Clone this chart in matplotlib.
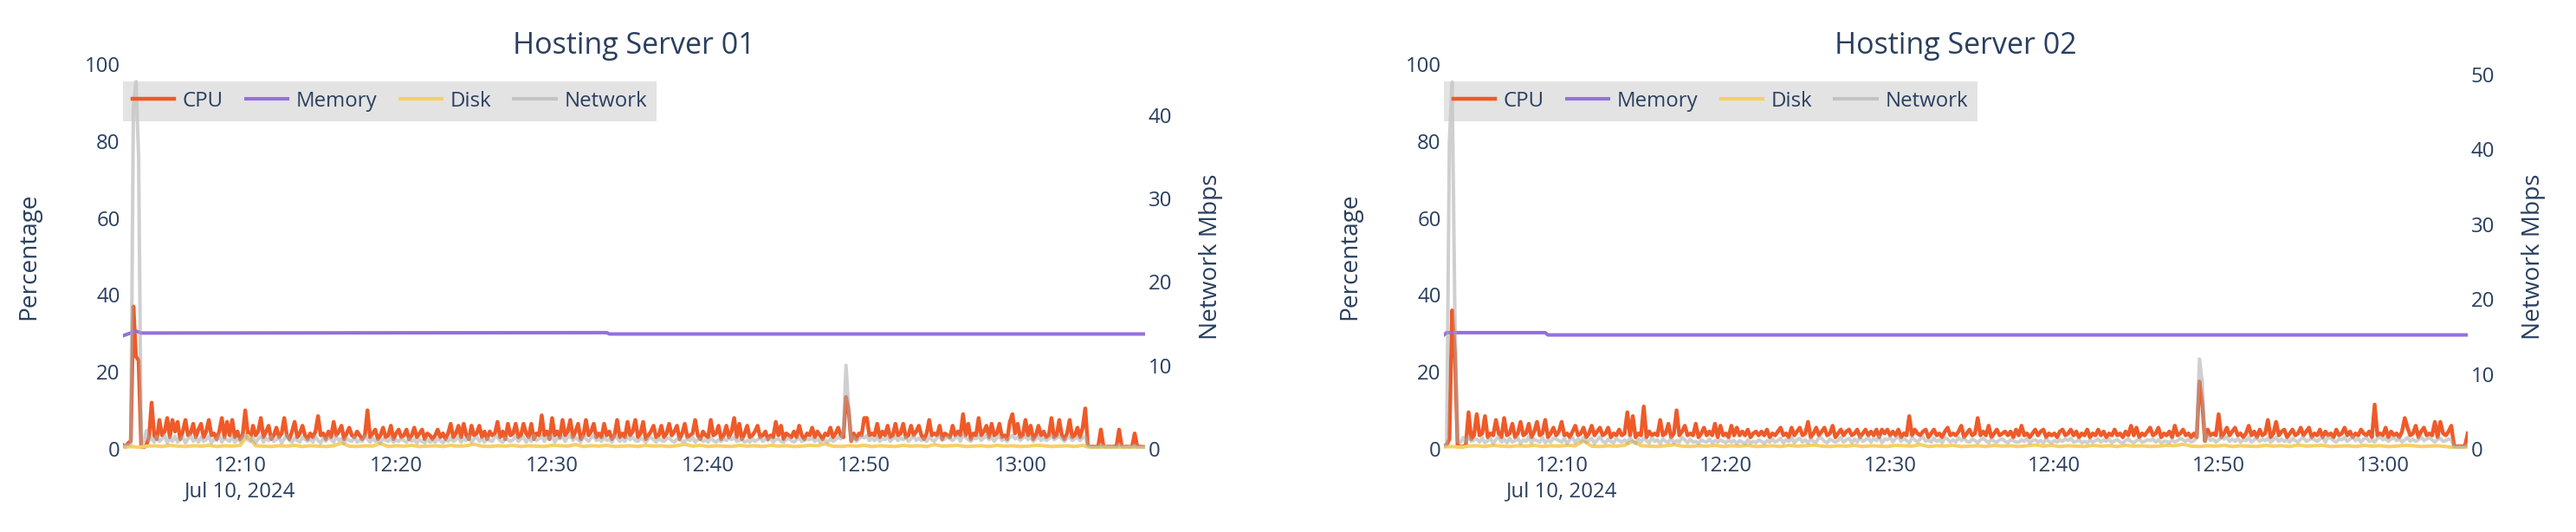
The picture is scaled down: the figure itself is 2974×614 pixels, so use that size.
import pandas as pd
import matplotlib
matplotlib.use('Agg')
import matplotlib.pyplot as plt
from matplotlib.ticker import MultipleLocator

# --- Hosting Server 01 : samples every 10 s from 12:02:30 (one row = one minute)
s1_start = '2024-07-10 12:02:30'
s1_cpu = [
    1.0, 0.5, 1.5, 2.0, 37.0, 24.0,
    23.0, 0.5, 0.4, 1.0, 3.0, 12.0,
    3.5, 2.5, 7.5, 3.5, 4.5, 8.0,
    3.0, 7.5, 4.5, 7.0, 2.5, 4.5,
    7.5, 3.5, 4.0, 6.5, 3.0, 5.0,
    6.5, 3.0, 4.5, 7.5, 3.5, 4.0,
    2.5, 4.5, 8.0, 3.0, 7.0, 3.5,
    7.5, 3.0, 4.5, 2.5, 3.5, 10.0,
    4.0, 3.0, 6.0, 3.5, 4.5, 8.0,
    3.0, 4.5, 6.0, 2.5, 3.5, 5.5,
    3.0, 4.0, 8.0, 3.5, 2.5, 4.5,
    7.0, 3.0, 4.0, 6.0, 3.5, 2.5,
    4.0, 3.0, 4.5, 8.5, 3.5, 4.0,
    2.5, 4.5, 3.0, 7.0, 3.5, 4.5,
    6.0, 2.5, 4.0, 5.5, 3.5, 3.0,
    4.5, 3.5, 2.5, 3.5, 10.0, 3.0,
    4.0, 5.0, 2.5, 3.5, 5.5, 3.0,
    3.5, 6.0, 2.5, 4.0, 5.0, 3.0,
    3.5, 5.0, 2.5, 3.5, 5.5, 3.0,
    4.0, 5.0, 2.5, 4.0, 3.5, 2.5,
    3.5, 5.0, 3.0, 4.0, 2.5, 4.0,
    6.5, 3.0, 4.0, 6.0, 3.0, 6.5,
    3.5, 2.5, 6.0, 3.5, 4.0, 6.0,
    3.0, 4.5, 2.5, 4.5, 3.5, 4.0,
    7.0, 3.0, 4.5, 2.5, 6.5, 3.5,
    4.0, 6.5, 3.0, 3.5, 6.5, 4.0,
    3.0, 6.5, 2.5, 4.0, 3.5, 8.7,
    3.5, 4.5, 2.5, 8.0, 3.5, 4.5,
    3.0, 7.5, 3.5, 4.5, 7.5, 3.0,
    4.5, 6.5, 2.5, 3.5, 7.5, 3.5,
    4.5, 6.5, 3.0, 4.0, 3.0, 6.5,
    3.5, 4.5, 2.5, 3.5, 7.5, 3.0,
    4.0, 3.0, 7.0, 3.5, 4.5, 7.5,
    3.0, 4.0, 7.0, 2.5, 3.5, 4.5,
    6.0, 3.0, 3.5, 6.0, 3.0, 4.0,
    6.5, 3.5, 4.5, 6.0, 2.5, 4.0,
    6.5, 3.0, 3.5, 4.0, 7.5, 3.5,
    2.5, 4.5, 3.5, 3.0, 7.5, 3.5,
    4.0, 6.0, 2.5, 3.5, 6.0, 3.0,
    4.5, 8.0, 3.0, 6.5, 2.5, 4.0,
    6.0, 3.0, 3.5, 4.5, 6.0, 3.0,
    3.5, 4.5, 2.5, 3.5, 3.0, 7.0,
    3.5, 6.0, 2.5, 4.0, 3.5, 3.0,
    4.5, 3.0, 6.0, 3.5, 2.5, 4.0,
    3.5, 5.5, 3.0, 4.5, 3.5, 2.5,
    4.0, 3.5, 5.5, 3.0, 4.0, 5.5,
    3.5, 3.0, 13.5, 10.0, 2.0, 4.0,
    2.5, 4.0, 3.5, 8.0, 8.0, 3.5,
    4.0, 3.5, 6.5, 3.0, 4.5, 3.5,
    6.0, 3.0, 3.5, 6.5, 3.5, 4.0,
    6.5, 3.0, 3.5, 6.0, 3.5, 4.5,
    6.0, 3.5, 2.5, 4.0, 7.5, 3.5,
    4.0, 3.5, 6.0, 2.5, 4.0, 3.5,
    3.0, 6.0, 3.5, 4.5, 3.5, 9.0,
    3.5, 6.5, 2.5, 4.0, 3.5, 8.0,
    3.5, 4.5, 6.0, 3.0, 6.5, 3.5,
    4.0, 6.5, 3.0, 3.5, 2.5, 7.0,
    9.0, 4.0, 6.5, 3.0, 3.5, 7.5,
    3.5, 6.0, 2.5, 3.5, 6.0, 3.5,
    4.5, 3.0, 3.5, 8.0, 3.0, 3.5,
    7.5, 3.5, 2.5, 4.0, 7.5, 3.0,
    3.5, 5.5, 3.0, 5.5, 10.5, 0.8,
    0.5, 0.6, 0.5, 0.7, 5.0, 0.6,
    0.5, 0.6, 0.5, 0.6, 0.7, 5.0,
    0.6, 0.5, 0.6, 0.5, 0.6, 4.0,
    0.5, 0.6, 0.5, 0.5,
]
s1_net = [
    0.3, 0.4, 0.5, 0.6, 41.0, 44.0,
    35.0, 0.6, 0.9, 2.2, 1.0, 1.3,
    0.8, 1.5, 0.9, 1.2, 1.6, 0.7,
    1.3, 0.9, 1.5, 0.8, 1.1, 1.4,
    0.7, 1.2, 1.6, 0.9, 1.3, 0.8,
    1.4, 0.9, 1.1, 1.5, 0.7, 1.2,
    1.0, 1.6, 0.8, 1.3, 1.1, 0.9,
    1.5, 0.8, 1.2, 0.9, 1.4, 1.7,
    1.1, 0.9, 1.4, 0.7, 1.2, 1.5,
    0.8, 1.3, 1.0, 1.5, 0.9, 1.1,
    1.4, 0.7, 1.2, 1.6, 1.0, 0.8,
    1.3, 1.0, 0.8, 1.4, 1.1, 0.9,
    1.2, 0.8, 1.5, 1.0, 0.7, 1.3,
    0.9, 1.4, 1.1, 0.8, 1.5, 1.0,
    1.2, 0.7, 1.3, 1.0, 0.9, 1.4,
    0.8, 1.1, 0.9, 1.5, 1.2, 0.8,
    1.3, 0.9, 1.0, 0.7, 1.2, 1.0,
    0.9, 1.3, 0.8, 1.1, 0.9, 1.2,
    1.0, 0.8, 1.2, 0.9, 1.1, 0.7,
    1.1, 0.9, 0.7, 1.2, 0.8, 1.0,
    0.8, 1.2, 1.0, 0.7, 1.1, 0.9,
    1.3, 0.9, 1.1, 1.4, 0.8, 1.2,
    1.0, 1.5, 0.8, 1.2, 1.4, 0.9,
    1.2, 0.8, 1.3, 1.0, 0.9, 1.5,
    1.4, 1.0, 0.8, 1.3, 1.1, 0.9,
    1.1, 1.5, 0.9, 1.2, 1.4, 0.8,
    1.3, 0.9, 1.6, 1.0, 1.2, 1.5,
    0.9, 1.4, 1.1, 1.6, 0.8, 1.3,
    1.2, 1.5, 0.9, 1.4, 1.6, 1.0,
    1.4, 1.1, 0.8, 1.5, 1.2, 0.9,
    1.3, 1.6, 1.0, 1.2, 0.9, 1.4,
    1.0, 1.2, 0.8, 1.5, 1.3, 0.9,
    1.2, 0.9, 1.5, 1.1, 1.4, 1.0,
    0.9, 1.3, 1.1, 0.8, 1.2, 1.4,
    1.1, 0.8, 1.3, 1.0, 0.9, 1.2,
    1.3, 1.0, 0.8, 1.2, 1.1, 0.9,
    0.9, 1.2, 1.0, 1.4, 0.8, 1.1,
    1.2, 0.9, 1.1, 0.8, 1.3, 1.0,
    0.8, 1.1, 0.9, 1.2, 1.0, 1.3,
    1.1, 1.4, 0.9, 1.0, 1.2, 0.8,
    1.0, 0.8, 1.2, 0.9, 1.1, 1.3,
    0.9, 1.2, 1.0, 1.3, 0.8, 1.1,
    1.2, 0.9, 0.8, 1.1, 1.3, 1.0,
    0.8, 1.1, 1.3, 0.9, 1.0, 1.2,
    1.1, 1.3, 0.9, 1.2, 0.8, 1.0,
    1.0, 0.8, 1.2, 0.9, 1.1, 1.4,
    1.2, 2.0, 10.0, 5.0, 1.0, 1.4,
    0.9, 1.2, 1.5, 1.3, 1.6, 1.0,
    1.3, 1.0, 1.4, 0.9, 1.2, 1.1,
    1.5, 0.9, 1.2, 1.4, 1.0, 1.3,
    1.1, 1.4, 0.9, 1.2, 1.5, 1.0,
    1.3, 1.0, 1.2, 0.9, 1.4, 1.1,
    0.9, 1.3, 1.5, 1.0, 1.2, 1.4,
    1.2, 1.0, 1.3, 1.5, 0.9, 1.6,
    1.4, 1.1, 0.9, 1.3, 1.2, 1.5,
    1.0, 1.3, 1.6, 1.1, 1.4, 0.9,
    1.3, 1.5, 1.0, 1.2, 0.9, 1.4,
    1.6, 1.2, 1.4, 1.0, 1.3, 1.5,
    1.1, 1.4, 0.9, 1.2, 1.5, 1.0,
    1.3, 1.0, 1.2, 1.6, 1.1, 1.3,
    1.5, 1.2, 0.9, 1.3, 1.4, 1.0,
    1.2, 1.4, 1.0, 1.3, 1.5, 0.4,
    0.3, 0.2, 0.3, 0.2, 0.5, 0.3,
    0.2, 0.3, 0.2, 0.3, 0.2, 0.5,
    0.3, 0.2, 0.3, 0.2, 0.3, 0.4,
    0.2, 0.3, 0.2, 0.2,
]
# disk sampled every 30 s
s1_disk = [
    0.5, 0.6, 0.4, 0.7, 0.8, 0.6, 0.9, 0.7, 0.6, 0.8,
    0.7, 0.9, 0.6, 0.8, 0.7, 0.9, 3.4, 0.8, 0.7, 0.6,
    0.8, 0.7, 0.9, 0.6, 0.8, 0.7, 0.6, 0.8, 1.5, 0.7,
    0.6, 0.8, 0.7, 1.4, 0.6, 0.8, 0.7, 0.9, 0.6, 0.7,
    0.8, 0.6, 0.9, 0.7, 0.8, 1.2, 0.7, 0.6, 0.8, 0.7,
    0.9, 0.6, 0.8, 0.7, 0.6, 0.9, 0.8, 0.7, 1.1, 0.6,
    0.8, 0.7, 0.9, 0.6, 0.7, 0.8, 0.6, 0.9, 0.7, 0.8,
    0.6, 0.8, 1.2, 0.7, 0.9, 0.6, 0.8, 0.7, 0.6, 0.9,
    0.7, 0.8, 0.6, 0.9, 0.7, 0.8, 0.6, 0.7, 0.9, 0.8,
    1.3, 0.7, 0.6, 0.8, 0.7, 0.9, 0.6, 0.8, 0.7, 0.6,
    0.9, 0.7, 0.8, 0.6, 1.1, 0.7, 0.8, 0.9, 0.6, 0.7,
    0.8, 0.6, 0.9, 0.7, 0.8, 0.6, 0.7, 0.9, 0.8, 0.6,
    0.7, 0.8, 0.6, 0.9, 0.3, 0.3, 0.4, 0.3, 0.3, 0.4,
    0.3, 0.3,
]
s1_mem_times = ['12:02:30', '12:03:20', '12:03:40', '12:33:30', '12:33:40', '13:08:00']
s1_mem = [29.4, 30.6, 30.1, 30.2, 29.85, 29.85]
s1_net_top = 46.1

# --- Hosting Server 02 : samples every 10 s from 12:02:50
s2_start = '2024-07-10 12:02:50'
s2_cpu = [
    0.8, 1.0, 2.5, 36.0, 25.0, 0.8,
    0.5, 0.6, 1.0, 9.5, 2.5, 3.5,
    9.0, 3.5, 4.0, 8.5, 3.0, 4.0,
    3.5, 7.5, 4.0, 3.0, 8.0, 3.5,
    4.0, 6.5, 3.0, 4.0, 7.0, 3.5,
    4.0, 6.5, 3.0, 4.5, 7.0, 3.5,
    4.0, 7.5, 3.0, 4.0, 5.5, 3.5,
    4.5, 7.0, 3.5, 4.0, 3.0, 4.5,
    6.0, 3.5, 4.0, 5.5, 3.0, 4.0,
    6.0, 3.5, 4.5, 5.5, 3.5, 4.0,
    5.5, 3.0, 4.0, 3.5, 5.0, 3.5,
    4.0, 9.5, 3.5, 8.5, 3.0, 4.0,
    3.5, 11.0, 3.0, 4.5, 3.5, 4.0,
    3.5, 7.5, 3.5, 4.0, 6.5, 3.0,
    4.0, 10.0, 3.5, 4.5, 6.0, 3.5,
    4.0, 3.5, 6.5, 3.0, 4.0, 5.5,
    3.5, 4.5, 3.5, 6.5, 3.0, 6.0,
    3.5, 4.0, 3.0, 6.0, 3.5, 5.5,
    3.5, 4.5, 3.5, 5.0, 3.0, 4.0,
    4.5, 3.5, 4.5, 3.5, 5.0, 3.0,
    4.0, 3.5, 4.5, 5.5, 3.5, 4.0,
    3.0, 5.5, 3.5, 4.5, 5.5, 3.5,
    4.0, 7.0, 3.0, 4.0, 5.5, 3.5,
    4.5, 5.5, 3.5, 4.0, 6.0, 3.0,
    4.0, 5.0, 3.5, 4.5, 5.0, 3.5,
    4.0, 5.0, 3.0, 4.0, 5.0, 3.5,
    4.5, 3.5, 5.0, 3.0, 5.0, 4.0,
    5.0, 3.5, 4.5, 3.5, 5.0, 3.0,
    4.0, 3.5, 8.5, 3.5, 5.0, 4.0,
    3.5, 4.5, 5.0, 3.0, 4.0, 5.0,
    3.5, 4.0, 3.0, 4.5, 5.5, 3.5,
    4.0, 3.5, 4.5, 6.0, 3.0, 4.0,
    5.0, 3.5, 4.0, 8.0, 3.5, 4.5,
    3.5, 6.0, 3.0, 4.0, 5.0, 3.5,
    4.0, 4.5, 3.5, 4.5, 3.0, 5.0,
    3.5, 6.0, 3.5, 4.0, 3.0, 4.0,
    5.0, 3.5, 4.5, 5.0, 3.0, 4.0,
    3.5, 4.0, 3.0, 4.5, 5.0, 3.5,
    4.0, 5.0, 3.5, 4.5, 3.0, 4.0,
    3.5, 5.0, 3.0, 4.0, 3.5, 5.0,
    3.5, 4.5, 3.0, 4.0, 3.5, 5.0,
    3.5, 4.0, 3.0, 4.5, 3.5, 6.0,
    3.5, 5.5, 3.0, 4.0, 3.5, 4.5,
    5.5, 3.5, 4.0, 5.5, 3.0, 4.0,
    3.5, 4.5, 3.0, 6.0, 3.5, 4.0,
    5.0, 3.5, 4.0, 3.0, 4.0, 3.0,
    17.5, 12.0, 2.0, 5.0, 3.5, 4.0,
    3.5, 9.0, 3.0, 4.0, 5.5, 3.5,
    4.5, 5.5, 3.5, 4.0, 3.0, 4.0,
    6.0, 3.5, 4.5, 3.0, 5.0, 3.5,
    4.0, 7.5, 3.0, 4.0, 7.0, 3.5,
    4.5, 5.0, 3.0, 4.0, 5.0, 3.5,
    4.0, 5.5, 3.5, 4.5, 5.5, 3.0,
    4.0, 3.5, 5.0, 3.0, 4.5, 3.5,
    4.0, 3.0, 5.0, 3.5, 4.0, 5.5,
    3.5, 4.5, 3.0, 4.0, 3.5, 5.0,
    4.0, 3.5, 4.5, 3.0, 11.5, 3.5,
    4.0, 3.5, 5.5, 3.0, 4.5, 3.5,
    4.0, 3.0, 4.5, 8.0, 5.5, 3.5,
    4.0, 6.0, 3.0, 4.5, 5.5, 3.5,
    4.0, 3.5, 7.0, 3.0, 7.0, 4.0,
    3.5, 4.5, 6.0, 0.8, 0.6, 0.7,
    0.6, 0.8, 4.0,
]
s2_net = [
    0.4, 0.5, 41.0, 49.0, 18.0, 1.0,
    0.8, 1.5, 0.9, 1.6, 1.0, 1.2,
    1.3, 0.9, 1.5, 0.8, 1.1, 1.4,
    0.7, 1.2, 1.6, 0.9, 1.3, 0.8,
    1.4, 0.9, 1.1, 1.5, 0.7, 1.2,
    1.0, 1.6, 0.8, 1.3, 1.1, 0.9,
    1.5, 0.8, 1.2, 0.9, 1.4, 1.3,
    1.1, 0.9, 1.4, 0.7, 1.2, 1.5,
    0.8, 1.3, 1.0, 1.5, 0.9, 1.1,
    1.4, 0.7, 1.2, 1.6, 1.0, 0.8,
    1.3, 1.0, 0.8, 1.4, 1.1, 0.9,
    1.2, 0.8, 1.5, 1.0, 0.7, 1.3,
    0.9, 1.4, 1.1, 0.8, 1.5, 1.0,
    1.2, 0.7, 1.3, 1.0, 0.9, 1.4,
    0.8, 1.1, 0.9, 1.5, 1.2, 0.8,
    1.3, 0.9, 1.0, 0.7, 1.2, 1.0,
    0.9, 1.3, 0.8, 1.1, 0.9, 1.2,
    1.0, 0.8, 1.2, 0.9, 1.1, 0.7,
    1.1, 0.9, 0.7, 1.2, 0.8, 1.0,
    0.8, 1.2, 1.0, 0.7, 1.1, 0.9,
    1.3, 0.9, 1.1, 1.4, 0.8, 1.2,
    1.0, 1.5, 0.8, 1.2, 1.4, 0.9,
    1.2, 0.8, 1.3, 1.0, 0.9, 1.5,
    1.4, 1.0, 0.8, 1.3, 1.1, 0.9,
    1.1, 1.5, 0.9, 1.2, 1.4, 0.8,
    1.3, 0.9, 1.6, 1.0, 1.2, 1.5,
    0.9, 1.4, 1.1, 1.6, 0.8, 1.3,
    1.2, 1.5, 0.9, 1.4, 1.6, 1.0,
    1.4, 1.1, 0.8, 1.5, 1.2, 0.9,
    1.3, 1.6, 1.0, 1.2, 0.9, 1.4,
    1.0, 1.2, 0.8, 1.5, 1.3, 0.9,
    1.2, 0.9, 1.5, 1.1, 1.4, 1.0,
    0.9, 1.3, 1.1, 0.8, 1.2, 1.4,
    1.1, 0.8, 1.3, 1.0, 0.9, 1.2,
    1.3, 1.0, 0.8, 1.2, 1.1, 0.9,
    0.9, 1.2, 1.0, 1.4, 0.8, 1.1,
    1.2, 0.9, 1.1, 0.8, 1.3, 1.0,
    0.8, 1.1, 0.9, 1.2, 1.0, 1.3,
    1.1, 1.4, 0.9, 1.0, 1.2, 0.8,
    1.0, 0.8, 1.2, 0.9, 1.1, 1.3,
    0.9, 1.2, 1.0, 1.3, 0.8, 1.1,
    1.2, 0.9, 0.8, 1.1, 1.3, 1.0,
    0.8, 1.1, 1.3, 0.9, 1.0, 1.2,
    1.1, 1.3, 0.9, 1.2, 0.8, 1.0,
    1.0, 0.8, 1.2, 0.9, 1.1, 1.4,
    1.2, 1.0, 1.3, 0.9, 1.1, 1.5,
    12.0, 9.0, 1.0, 1.8, 1.1, 1.3,
    0.9, 1.2, 1.5, 1.3, 1.6, 1.0,
    1.3, 1.0, 1.4, 0.9, 1.2, 1.1,
    1.5, 0.9, 1.2, 1.4, 1.0, 1.3,
    1.1, 1.4, 0.9, 1.2, 1.5, 1.0,
    1.3, 1.0, 1.2, 0.9, 1.4, 1.1,
    0.9, 1.3, 1.5, 1.0, 1.2, 1.4,
    1.2, 1.0, 1.3, 1.5, 0.9, 1.6,
    1.4, 1.1, 0.9, 1.3, 1.2, 1.5,
    1.0, 1.3, 1.6, 1.1, 1.4, 0.9,
    1.3, 1.5, 1.0, 1.2, 0.9, 1.4,
    1.6, 1.2, 1.4, 1.0, 1.3, 1.5,
    1.1, 1.4, 0.9, 1.2, 1.5, 1.0,
    1.3, 1.0, 1.2, 1.6, 1.1, 1.3,
    1.5, 1.2, 0.9, 1.3, 1.4, 1.0,
    1.1, 1.3, 1.2, 0.3, 0.2, 0.3,
    0.2, 0.3, 0.6,
]
s2_disk = [
    0.5, 0.6, 0.4, 0.7, 0.8, 0.6, 0.9, 0.7, 0.6, 0.8,
    0.7, 0.9, 0.6, 0.8, 0.7, 0.9, 0.8, 2.0, 0.7, 0.6,
    0.8, 0.7, 0.9, 2.0, 0.8, 0.7, 0.6, 0.8, 1.1, 0.7,
    0.6, 0.8, 0.7, 0.9, 0.6, 0.8, 0.7, 0.9, 0.6, 0.7,
    0.8, 0.6, 0.9, 0.7, 0.8, 1.0, 0.7, 0.6, 0.8, 0.7,
    0.9, 0.6, 0.8, 0.7, 0.6, 0.9, 0.8, 0.7, 1.1, 0.6,
    0.8, 0.7, 0.9, 0.6, 0.7, 0.8, 0.6, 0.9, 0.7, 0.8,
    0.6, 0.8, 1.0, 0.7, 0.9, 0.6, 0.8, 0.7, 0.6, 0.9,
    0.7, 0.8, 0.6, 0.9, 0.7, 0.8, 0.6, 0.7, 0.9, 0.8,
    1.2, 0.7, 0.6, 0.8, 0.7, 0.9, 0.6, 0.8, 0.7, 0.6,
    0.9, 0.7, 0.8, 0.6, 1.0, 0.7, 0.8, 0.9, 0.6, 0.7,
    0.8, 0.6, 0.9, 0.7, 0.8, 0.6, 0.7, 0.9, 0.8, 0.6,
    0.7, 0.8, 0.6, 0.3, 0.3, 0.4,
]
s2_mem_times = ['12:02:50', '12:03:00', '12:09:00', '12:09:10', '13:05:10']
s2_mem = [29.6, 30.2, 30.2, 29.6, 29.6]
s2_net_top = 51.4

tick_times = ['12:10', '12:20', '12:30', '12:40', '12:50', '13:00']
tick_labels = ['12:10\nJul 10, 2024', '12:20', '12:30', '12:40', '12:50', '13:00']
DAY = '2024-07-10 '

# colours
BG = '#E5ECF6'
TXT = '#2a3f5f'
CPU_C = '#EF5A28'
MEM_C = '#9370DB'
DISK_C = '#F7CF66'
NET_C = '#A9A9A9'

plt.rcParams['font.family'] = ['Open Sans', 'DejaVu Sans']

fig = plt.figure(figsize=(29.74, 6.14), dpi=100)
W, H = 2974, 614


def draw_server(rect, title, start, cpu, net, disk, mem_times, mem, net_top):
    ax = fig.add_axes(rect)
    ax2 = ax.twinx()
    # percentage axes sits on top, network axes carries the background
    ax.set_zorder(ax2.get_zorder() + 1)
    ax.patch.set_visible(False)
    ax2.set_facecolor(BG)

    t = pd.date_range(start, periods=len(cpu), freq='10s')
    t_disk = pd.date_range(start, periods=len(disk), freq='30s')
    t_mem = pd.to_datetime([DAY + m for m in mem_times])

    ax.plot(t, cpu, color=CPU_C, lw=3.2, label='CPU', solid_joinstyle='round')
    ax.plot(t_mem, mem, color=MEM_C, lw=2.9, label='Memory')
    ax.plot(t_disk, disk, color=DISK_C, lw=2.9, label='Disk')
    ax.plot(t, net, color=NET_C, lw=2.9, alpha=0.55, label='Network',
            transform=ax2.transData)

    ax.set_xlim(t[0], t[-1])
    ax.set_ylim(0, 100)
    ax2.set_ylim(0, net_top)

    ax.set_xticks(pd.to_datetime([DAY + x for x in tick_times]))
    ax.set_xticklabels(tick_labels)
    for lbl in ax.get_xticklabels():
        lbl.set_linespacing(1.3)
    ax.set_yticks([0, 20, 40, 60, 80, 100])
    ax2.yaxis.set_major_locator(MultipleLocator(10))

    ax.grid(color='white', lw=1.5)
    ax2.grid(axis='y', color='white', lw=1.5)
    ax2.grid(axis='x', visible=False)
    for a in (ax, ax2):
        for s in a.spines.values():
            s.set_visible(False)
        a.tick_params(length=0, labelsize=17.3, colors=TXT)
    ax.tick_params(axis='x', pad=5.5)
    ax.tick_params(axis='y', pad=2.5)
    ax2.tick_params(axis='y', pad=2.5)

    ax.set_ylabel('Percentage', fontsize=20.2, color=TXT)
    ax.yaxis.set_label_coords(-0.0805, 0.5)
    ax2.set_ylabel('Network Mbps', fontsize=20.2, color=TXT)
    ax2.yaxis.set_label_coords(1.0525, 0.5)

    ax.set_title(title, fontsize=24.5, color=TXT, pad=8.6)

    leg = ax.legend(loc='upper left', bbox_to_anchor=(0, 0.955), ncol=4,
                    fontsize=17.3, labelcolor=TXT, facecolor='#c8c8c8',
                    framealpha=0.5, edgecolor='none', fancybox=False,
                    borderaxespad=0, handlelength=2.0, handletextpad=0.4,
                    columnspacing=1.1, borderpad=0.45)
    leg.set_zorder(10)
    return ax


draw_server([142 / W, 96 / H, 1180 / W, 444 / H], 'Hosting Server 01',
            s1_start, s1_cpu, s1_net, s1_disk, s1_mem_times, s1_mem, s1_net_top)
draw_server([1667 / W, 96 / H, 1182 / W, 444 / H], 'Hosting Server 02',
            s2_start, s2_cpu, s2_net, s2_disk, s2_mem_times, s2_mem, s2_net_top)

fig.savefig('out.png', dpi=100, facecolor='white')
